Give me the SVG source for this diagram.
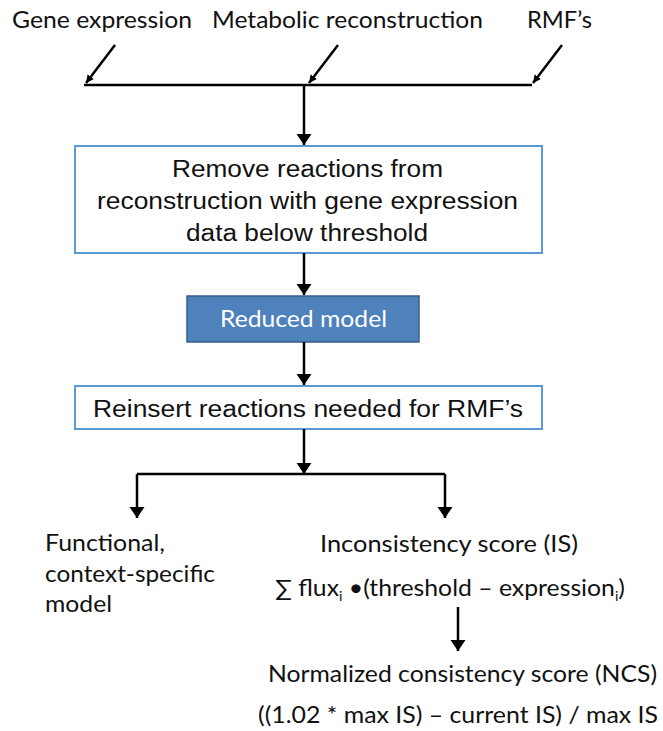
<svg xmlns="http://www.w3.org/2000/svg" width="663" height="731" viewBox="0 0 663 731">
<defs>
<style>
.cal{font-family:Lato,"Open Sans","Noto Sans",sans-serif;font-size:22.5px;fill:#111}
.top{font-size:24px}
.ari{font-family:"Liberation Sans",Arial,sans-serif;font-size:23px;fill:#111}
.ln{stroke:#000;stroke-width:2.5;fill:none}
.box{fill:#fff;stroke:#5b9bd5;stroke-width:2}
</style>
<marker id="ah" markerUnits="userSpaceOnUse" markerWidth="12" markerHeight="16" refX="11" refY="7.5" orient="auto">
<path d="M0,0 L11,7.5 L0,15 z" fill="#000"/>
</marker>
<marker id="sh" markerUnits="userSpaceOnUse" markerWidth="9" markerHeight="9" refX="8" refY="4" orient="auto">
<path d="M0,0 L8,4 L0,8 z" fill="#000"/>
</marker>
</defs>
<rect width="663" height="731" fill="#fff"/>

<g id="gene-expression"><text class="cal top" x="12" y="28" textLength="180" lengthAdjust="spacingAndGlyphs">Gene expression</text></g>
<g id="metabolic-reconstruction"><text class="cal top" x="212" y="28" textLength="271" lengthAdjust="spacingAndGlyphs">Metabolic reconstruction</text></g>
<g id="rmfs"><text class="cal top" x="527" y="28" textLength="65" lengthAdjust="spacingAndGlyphs">RMF’s</text></g>

<g id="remove-reactions">
<rect class="box" x="75" y="146" width="467" height="107"/>
<text class="ari" x="172" y="177" textLength="271" lengthAdjust="spacingAndGlyphs">Remove reactions from</text>
<text class="ari" x="97" y="209" textLength="421" lengthAdjust="spacingAndGlyphs">reconstruction with gene expression</text>
<text class="ari" x="186" y="241" textLength="242" lengthAdjust="spacingAndGlyphs">data below threshold</text>
</g>

<g id="reduced-model">
<rect x="187" y="296" width="232" height="46" fill="#4f81bd" stroke="#385d8a" stroke-width="1.5"/>
<text class="cal" x="220" y="327" textLength="167" lengthAdjust="spacingAndGlyphs" style="fill:#fff">Reduced model</text>
</g>

<g id="reinsert">
<rect class="box" x="75" y="386" width="467" height="43"/>
<text class="ari" x="93" y="417" textLength="430" lengthAdjust="spacingAndGlyphs">Reinsert reactions needed for RMF’s</text>
</g>

<g id="functional-model">
<text class="cal" x="45" y="551" textLength="120" lengthAdjust="spacingAndGlyphs">Functional,</text>
<text class="cal" x="45" y="582" textLength="170" lengthAdjust="spacingAndGlyphs">context-specific</text>
<text class="cal" x="45" y="612" textLength="67" lengthAdjust="spacingAndGlyphs">model</text>
</g>

<g id="inconsistency-score">
<text class="cal" x="320" y="552" textLength="258" lengthAdjust="spacingAndGlyphs">Inconsistency score  (IS)</text>
<text class="cal" x="275" y="596" textLength="350" lengthAdjust="spacingAndGlyphs">∑ flux<tspan font-size="13" dy="5">i</tspan><tspan dy="-5"> •(threshold – expression</tspan><tspan font-size="13" dy="5">i</tspan><tspan dy="-5">)</tspan></text>
</g>

<g id="normalized-score">
<text class="cal" x="268" y="682" textLength="389" lengthAdjust="spacingAndGlyphs">Normalized consistency score (NCS)</text>
<text class="cal" x="258" y="723" textLength="400" lengthAdjust="spacingAndGlyphs">((1.02 * max IS) – current IS) / max IS</text>
</g>

<g id="connectors">
<line class="ln" x1="115" y1="45" x2="86" y2="83" marker-end="url(#sh)"/>
<line class="ln" x1="338" y1="45" x2="309" y2="83" marker-end="url(#sh)"/>
<line class="ln" x1="562" y1="45" x2="533" y2="83" marker-end="url(#sh)"/>
<line class="ln" x1="84" y1="85" x2="532" y2="85"/>
<line class="ln" x1="304" y1="85" x2="304" y2="145" marker-end="url(#ah)"/>
<line class="ln" x1="304" y1="253" x2="304" y2="295" marker-end="url(#ah)"/>
<line class="ln" x1="304" y1="342" x2="304" y2="385" marker-end="url(#ah)"/>
<line class="ln" x1="304" y1="429" x2="304" y2="474" marker-end="url(#ah)"/>
<polyline class="ln" points="137,474 445,474"/>
<line class="ln" x1="137" y1="474" x2="137" y2="518" marker-end="url(#ah)"/>
<line class="ln" x1="445" y1="474" x2="445" y2="518" marker-end="url(#ah)"/>
<line class="ln" x1="458" y1="607" x2="458" y2="651" marker-end="url(#ah)"/>
</g>
</svg>
